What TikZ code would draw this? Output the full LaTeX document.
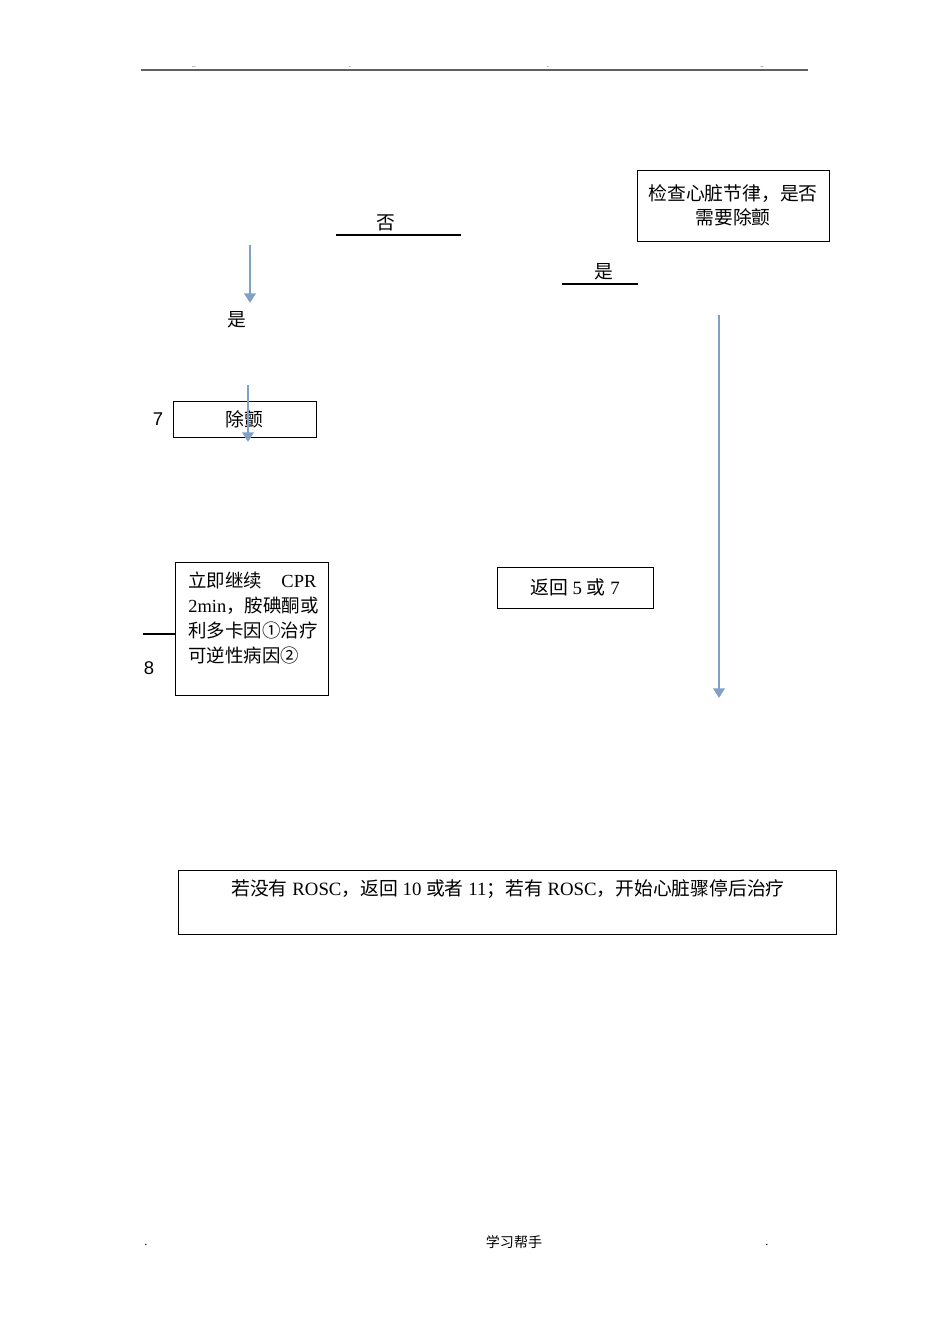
\documentclass[tikz,border=0pt]{standalone}
\usepackage{fontspec}
\setmainfont{Liberation Serif}
\newfontfamily\cjk{Noto Sans CJK SC}
\newfontfamily\arial{Liberation Sans}
\usetikzlibrary{arrows.meta}
\definecolor{arrblue}{RGB}{130,160,198}
\definecolor{hdrgray}{RGB}{96,96,96}

\begin{document}
\begin{tikzpicture}[x=0.02cm,y=-0.02cm,
	box/.style={draw,line width=0.5pt,inner sep=0pt},
	txt/.style={font=\fontsize{10.7}{13.6}\selectfont,inner sep=0pt},
	num/.style={font=\arial\fontsize{10.5}{12}\selectfont,inner sep=0pt},
	dotlbl/.style={font=\fontsize{4}{4}\selectfont,inner sep=0pt},
	flow/.style={arrblue,line width=1.6pt,-{Triangle[width=6.5pt,length=5.5pt]}},
	rule/.style={line width=0.7pt}]
	\useasboundingbox (0,0) rectangle (950,1344);
	% header
	\coordinate (hl) at (141,70);
	\coordinate (hr) at (808,70);
	\draw[hdrgray,line width=1.1pt] (hl) -- (hr);
	\node[dotlbl] (d1) at (194,67) {..};
	\node[dotlbl] (d2) at (350,67) {.};
	\node[dotlbl] (d3) at (548,67) {.};
	\node[dotlbl] (d4) at (762,67) {..};
	% rhythm check
	\node[box,txt,minimum width=3.84cm,minimum height=1.42cm,align=center] (chk) at (733,205.5) {{\cjk 检查心脏节律，是否}\\{\cjk 需要除颤}};
	\node[txt] (no) at (386,223) {\cjk 否};
	\coordinate (nol) at (336,235);
	\coordinate (nor) at (461,235);
	\draw[rule] (nol) -- (nor);
	\node[txt] (yesr) at (604,272) {\cjk 是};
	\coordinate (yrl) at (562,284);
	\coordinate (yrr) at (638,284);
	\draw[rule] (yrl) -- (yrr);
	\coordinate (a1s) at (250,245);
	\coordinate (a1e) at (250,303);
	\draw[flow] (a1s) -- (a1e);
	\node[txt] (yesl) at (237,320) {\cjk 是};
	% defibrillation
	\node[num] (n7) at (158,419) {7};
	\node[box,txt,minimum width=2.86cm,minimum height=0.72cm] (defib) at (244.5,419) {\cjk 除颤};
	\coordinate (a2s) at (248,385);
	\coordinate (a2e) at (248,442);
	\draw[flow] (a2s) -- (a2e);
	% cpr
	\node[box,minimum width=3.06cm,minimum height=2.66cm] (cpr) at (251.5,628.5) {};
	\node[txt,anchor=north west,align=left,text width=2.56cm,font=\fontsize{10.5}{14.2}\selectfont] (cprtxt) at (188,572) {{\cjk 立即继续}\hfill CPR\\2min{\cjk ，胺碘酮或}\\{\cjk 利多卡因①治疗}\\{\cjk 可逆性病因②}};
	\coordinate (c8) at (143,634);
	\draw[rule] (c8) -- (cpr.west |- c8);
	\node[num] (n8) at (149,668) {8};
	% return
	\node[box,txt,minimum width=3.12cm,minimum height=0.82cm] (ret) at (575,587.5) {{\cjk 返回} 5 {\cjk 或} 7};
	\coordinate (a3s) at (719,315);
	\coordinate (a3e) at (719,698);
	\draw[flow] (a3s) -- (a3e);
	% rosc
	\node[box,minimum width=13.16cm,minimum height=1.28cm] (rosc) at (507,902) {};
	\node[txt] (rosctxt) at (508,889) {{\cjk 若没有} ROSC{\cjk ，返回} 10 {\cjk 或者} 11{\cjk ；若有} ROSC{\cjk ，开始心脏骤停后治疗}};
	% footer
	\node[dotlbl,font=\fontsize{7}{7}\selectfont] (f1) at (146,1245) {.};
	\node[txt,font=\cjk\fontsize{8}{8}\selectfont] (foot) at (514,1242) {学习帮手};
	\node[dotlbl,font=\fontsize{7}{7}\selectfont] (f2) at (767,1245) {.};
\end{tikzpicture}
\end{document}
